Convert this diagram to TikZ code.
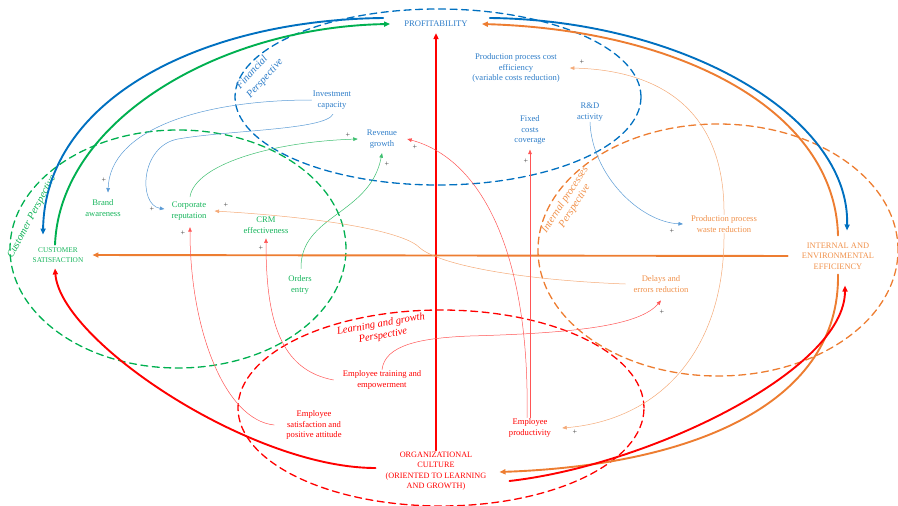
\documentclass[tikz,border=0pt]{standalone}
\usepackage{fontspec}
\setmainfont{Liberation Serif}
\usetikzlibrary{arrows.meta}

\begin{document}
\begin{tikzpicture}
		[x=1pt,y=-1pt,line cap=round,
		%Styles
		label box/.style={align=center,inner sep=1pt,font=\fontsize{8.6}{10.5}\selectfont},
		caps box/.style={align=center,inner sep=1pt,font=\fontsize{#1}{10.5}\selectfont},
		persp text/.style={align=center,inner sep=0pt,font=\fontsize{10.5}{11.5}\selectfont\itshape},
		persp line/.style={line width=1.3pt,dash pattern=on 7pt off 4.5pt},
		thick arrow/.style={line width=1.9pt,-{Triangle[length=6pt,width=5pt]}},
		thin arrow/.style={line width=0.5pt,-{Triangle[length=4.5pt,width=3.6pt]}},
		sign/.style={inner sep=0pt,text=black!75,font=\fontsize{8}{8}\selectfont}
		]
		
		%Colors
		\definecolor{pblue}{RGB}{0,112,192}
		\definecolor{pgreen}{RGB}{0,176,80}
		\definecolor{porange}{RGB}{237,125,49}
		\definecolor{pred}{RGB}{255,0,0}
		\definecolor{tblue}{RGB}{46,125,200}
		\definecolor{tgreen}{RGB}{20,180,90}
		\definecolor{torange}{RGB}{240,145,75}
		\definecolor{lblue}{RGB}{91,155,213}
		\definecolor{lgreen}{RGB}{60,190,110}
		\definecolor{lorange}{RGB}{244,170,120}
		\definecolor{lred}{RGB}{255,85,85}
		
		\useasboundingbox (0,0) rectangle (898,506);
		
		%Perspectives
		\draw[persp line,pblue] (438,97) ellipse [x radius=203pt,y radius=88pt];
		\draw[persp line,pgreen] (178,249) ellipse [x radius=168pt,y radius=119pt];
		\draw[persp line,pred] (441,408) ellipse [x radius=203pt,y radius=98pt];
		\draw[persp line,porange] (718,250) ellipse [x radius=180pt,y radius=126pt];
		
		\node[persp text,text=tblue,rotate=48,align=left,font=\fontsize{10.5}{13.5}\selectfont\itshape] (finp) at (260,74) {Financial\\Perspective};
		\node[persp text,text=tgreen,rotate=62] (custp) at (32,217) {Customer Perspective};
		\node[persp text,text=pred,rotate=10] (learnp) at (382,330) {Learning and growth\\Perspective};
		\node[persp text,text=torange,rotate=57] (intp) at (570,203) {Internal processes\\Perspective};
		
		%Main nodes
		\node[caps box=8.6,text=tblue] (profit) at (436,24) {PROFITABILITY};
		\node[caps box=7.3,text=tgreen] (custsat) at (58,255) {CUSTOMER\\[-1pt]SATISFACTION};
		\node[caps box=8.4,text=torange] (internal) at (838,256) {INTERNAL AND\\ENVIRONMENTAL\\EFFICIENCY};
		\node[caps box=8.2,text=pred] (culture) at (436,471) {ORGANIZATIONAL\\CULTURE\\(ORIENTED TO LEARNING\\AND GROWTH)};
		
		%Inner nodes
		\node[label box,text=tblue] (costeff) at (516,68) {Production process cost\\efficiency\\(variable costs reduction)};
		\node[label box,text=tblue] (invest) at (332,100) {Investment\\capacity};
		\node[label box,text=tblue] (revenue) at (382,139) {Revenue\\growth};
		\node[label box,text=tblue] (fixed) at (530,130) {Fixed\\costs\\coverage};
		\node[label box,text=tblue] (rd) at (590,112) {R\&D\\activity};
		\node[label box,text=tgreen] (brand) at (103,208) {Brand\\awareness};
		\node[label box,text=tgreen] (reput) at (189,211) {Corporate\\reputation};
		\node[label box,text=tgreen] (crm) at (266,225) {CRM\\effectiveness};
		\node[label box,text=tgreen] (orders) at (300,285) {Orders\\entry};
		\node[label box,text=torange] (waste) at (724,224) {Production process\\waste reduction};
		\node[label box,text=torange] (delays) at (661,284) {Delays and\\errors reduction};
		\node[label box,text=pred] (training) at (382,380) {Employee training and\\empowerment};
		\node[label box,text=pred] (empsat) at (314,425) {Employee\\satisfaction and\\positive attitude};
		\node[label box,text=pred] (prod) at (530,428) {Employee\\productivity};
		
		%Main links
		\draw[thick arrow,pred,shorten >=5pt] (culture.north) -- (profit.south);
		\draw[thick arrow,porange,shorten <=13pt,shorten >=8pt] (internal.west) -- (custsat.east);
		\draw[thick arrow,pblue] ([shift={(-20,-6)}]profit.west)
			.. controls (200,20) and (45,100) .. ([shift={(-15,-12)}]custsat.north);
		\draw[thick arrow,pgreen] ([shift={(-3,-2)}]custsat.north)
			.. controls (60,120) and (220,27) .. ([shift={(-13,0)}]profit.west);
		\draw[thick arrow,pblue] ([shift={(21,-6)}]profit.east)
			.. controls (680,20) and (850,115) .. ([shift={(9,-11)}]internal.north);
		\draw[thick arrow,porange] ([shift={(0,-6)}]internal.north)
			.. controls (835,110) and (680,30) .. ([shift={(13,0)}]profit.east);
		\draw[thick arrow,pred] ([shift={(-9,-3)}]culture.west)
			.. controls (250,468) and (60,340) .. ([shift={(-3,5)}]custsat.south);
		\draw[thick arrow,porange] ([shift={(0,4)}]internal.south)
			.. controls (840,400) and (700,465) .. ([shift={(12,1)}]culture.east);
		\draw[thick arrow,pred] ([shift={(22,10)}]culture.east)
			.. controls (650,465) and (845,370) .. ([shift={(7,15)}]internal.south);
		
		%Inner links
		\draw[thin arrow,lblue] (invest.west)
			.. controls (200,100) and (110,130) .. ([shift={(5,-6)}]brand.north);
		\draw[thin arrow,lblue] ([shift={(1,4)}]invest.south)
			.. controls (325,130) and (230,130) .. (178,139)
			.. controls (140,146) and (138,205) .. ([shift={(-6,-2)}]reput.west);
		\draw[thin arrow,lblue] (rd.south)
			.. controls (592,175) and (640,222) .. ([shift={(-7,0)}]waste.west);
		\draw[thin arrow,lgreen] ([shift={(1,-4)}]reput.north)
			.. controls (195,165) and (270,142) .. ([shift={(-8,0)}]revenue.west);
		\draw[thin arrow,lgreen] ([shift={(1,-6)}]orders.north)
			.. controls (300,215) and (370,215) .. ([shift={(0,4)}]revenue.south);
		\draw[thin arrow,lorange] ([shift={(-7,0)}]delays.west)
			.. controls (520,280) and (440,265) .. (420,248)
			.. controls (405,232) and (330,218) .. ([shift={(7,0)}]reput.east);
		\draw[thin arrow,lorange] (waste.north)
			.. controls (725,110) and (660,70) .. ([shift={(9,0)}]costeff.east);
		\draw[thin arrow,lorange] (waste.south)
			.. controls (725,350) and (660,420) .. ([shift={(10,0)}]prod.east);
		\draw[thin arrow,lred] ([shift={(-11,0)}]empsat.west)
			.. controls (225,420) and (190,330) .. ([shift={(1,6)}]reput.south);
		\draw[thin arrow,lred] ([shift={(-8,0)}]training.west)
			.. controls (280,370) and (266,320) .. ([shift={(0,4)}]crm.south);
		\draw[thin arrow,lred] (training.north)
			.. controls (385,345) and (420,338) .. (470,336)
			.. controls (580,333) and (640,325) .. ([shift={(0,7)}]delays.south);
		\draw[thin arrow,lred,shorten >=4pt] (prod.north) -- (fixed.south);
		\draw[thin arrow,lred] ([shift={(-3,0)}]prod.north)
			.. controls (530,260) and (485,160) .. ([shift={(9,0)}]revenue.east);
		
		%Signs
		\foreach \x/\y [count=\i] in {104/180,152/209,226/205,183/233,261/248,348/135,
			387/164,415/147,526/161,582/62,672/231,662/312,575/432}
			\node[sign] (plus\i) at (\x,\y) {+};
	\end{tikzpicture}
\end{document}
